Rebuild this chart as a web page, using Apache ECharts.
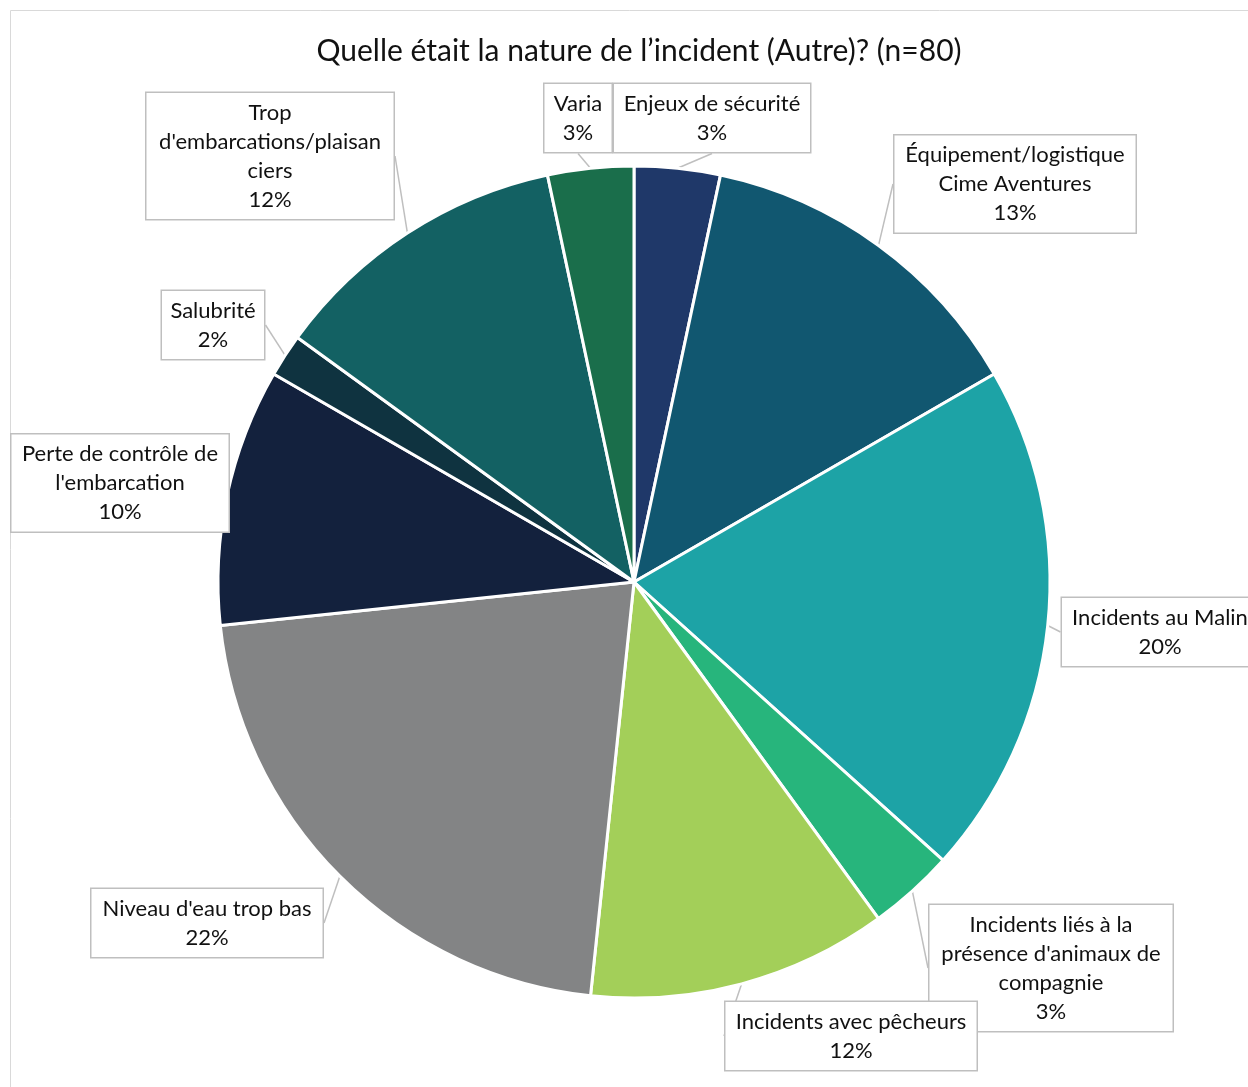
<!DOCTYPE html>
<html>
<head>
<meta charset="utf-8">
<script src="https://cdn.jsdelivr.net/npm/echarts@6/dist/echarts.min.js"></script>
<style>
  html, body { margin: 0; padding: 0; background: #fff; overflow: hidden; }
  #chart { width: 1248px; height: 1087px; }
</style>
</head>
<body>
<div id="chart"></div>
<script>
// categories, clockwise from 12 o'clock (label text wraps as in the source)
const categories = [
  'Enjeux de sécurité',
  'Équipement/logistique\nCime Aventures',
  'Incidents au Malin',
  'Incidents liés à la\nprésence d\'animaux de\ncompagnie',
  'Incidents avec pêcheurs',
  'Niveau d\'eau trop bas',
  'Perte de contrôle de\nl\'embarcation',
  'Salubrité',
  'Trop\nd\'embarcations/plaisan\nciers',
  'Varia'
]
// response counts (60 mentions)
const counts = [2, 8, 12, 2, 7, 13, 6, 1, 7, 2]

const colors = ['#1f3869', '#115770', '#1da3a6', '#27b57c', '#a3cf59', '#838485', '#13213d', '#0f3340', '#136163', '#1a6e4b']

// callout box centres and widths (px)
const boxes = [
  { x: 712, y: 118, w: 180 },
  { x: 1015, y: 184, w: 225 },
  { x: 1160, y: 632, w: 180 },
  { x: 1051, y: 968, w: 227 },
  { x: 851, y: 1036, w: 235 },
  { x: 207, y: 923, w: 215 },
  { x: 120, y: 483, w: 201 },
  { x: 213, y: 325, w: 86 },
  { x: 270, y: 156, w: 231 },
  { x: 578, y: 118, w: 51 }
]

const chart = echarts.init(document.getElementById('chart'))
const font = 'Lato, "Noto Sans", sans-serif'

chart.setOption({
  animation: false,
  title: {
    text: 'Quelle était la nature de l’incident (Autre)? (n=80)',
    left: 634,
    top: 31,
    textAlign: 'center',
    textStyle: { fontFamily: font, fontSize: 30, fontWeight: 'normal', color: '#111' }
  },
  graphic: [{
    type: 'rect',
    shape: { x: 10.5, y: 10.5, width: 1400, height: 1300 },
    style: { fill: 'none', stroke: '#d9d9d9', lineWidth: 1 },
    silent: true
  }],
  series: [{
    type: 'pie',
    center: [634, 582],
    radius: 416,
    startAngle: 90,
    clockwise: true,
    avoidLabelOverlap: false,
    itemStyle: { borderColor: '#fff', borderWidth: 3 },
    label: {
      show: true,
      position: 'outside',
      fontFamily: font,
      fontSize: 22,
      lineHeight: 29,
      color: '#111',
      align: 'center',
      overflow: 'none',
      backgroundColor: '#fff',
      borderColor: '#bfbfbf',
      borderWidth: 1.5,
      padding: [5, 8],
      formatter: p => p.name + '\n' + Math.round(p.percent) + '%'
    },
    labelLine: {
      show: true,
      length: 12,
      length2: 0,
      lineStyle: { color: '#bfbfbf', width: 1.5 }
    },
    labelLayout: p => ({
      x: boxes[p.dataIndex].x,
      y: boxes[p.dataIndex].y,
      align: 'center',
      verticalAlign: 'middle'
    }),
    data: categories.map((name, i) => ({
      name,
      value: counts[i],
      itemStyle: { color: colors[i] },
      label: { width: boxes[i].w }
    }))
  }]
})
</script>
</body>
</html>
